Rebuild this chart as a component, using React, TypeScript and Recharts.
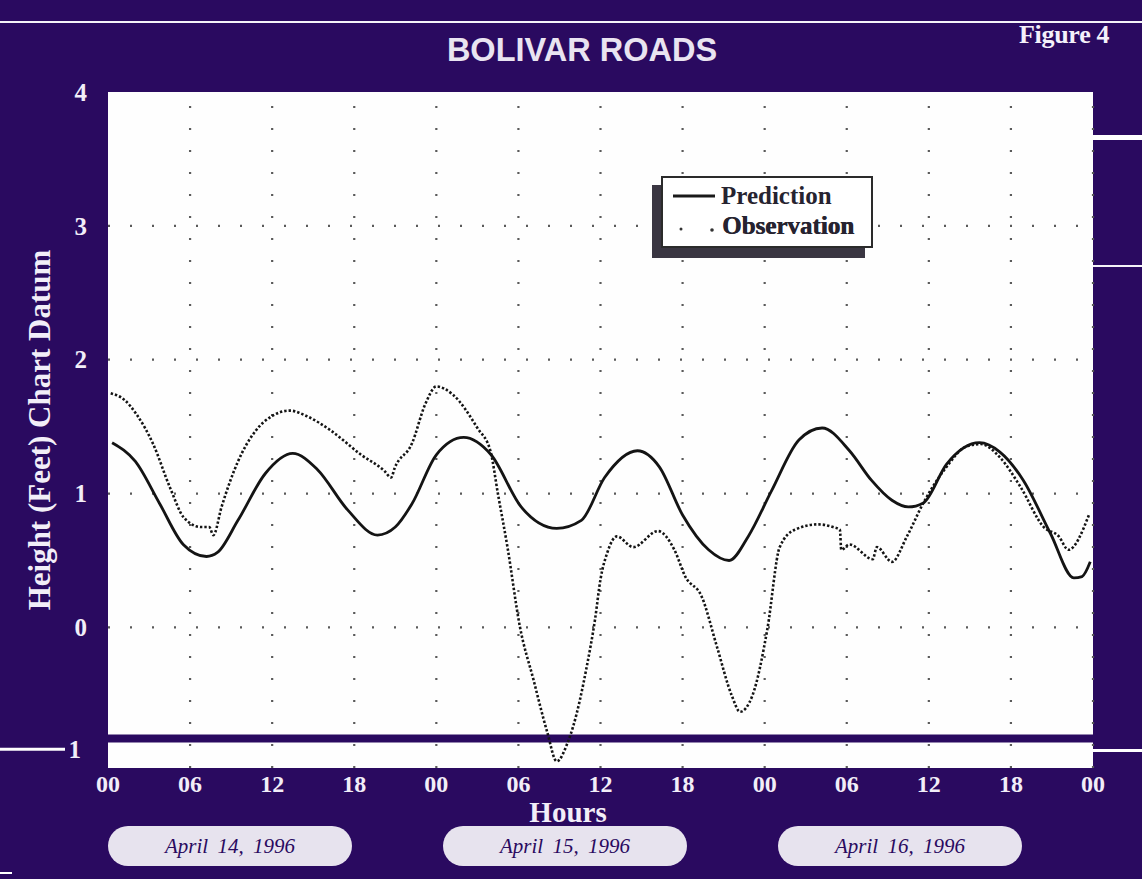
import React from 'react';
import { LineChart, Line, XAxis, YAxis, ReferenceLine, ReferenceArea, Legend, CartesianGrid } from 'recharts';

const PURPLE = '#2a0a60';
const SERIF = '"Liberation Serif", "DejaVu Serif", serif';
const SANS = '"Liberation Sans", Arial, sans-serif';

const titleText = 'BOLIVAR ROADS';
const figureText = 'Figure 4';
const yAxisTitle = 'Height (Feet) Chart Datum';
const xAxisTitle = 'Hours';

const hourTicks = [0, 6, 12, 18, 24, 30, 36, 42, 48, 54, 60, 66, 72];
const gridHours = [6, 12, 18, 24, 30, 36, 42, 48, 54, 60, 66, 72];
const heightTicks = [-1, 0, 1, 2, 3, 4];
const gridHeights = [0, 1, 2, 3];
const dateLabels = ['April 14, 1996', 'April 15, 1996', 'April 16, 1996'];

const predictionHours = [0.3, 2.0, 3.8, 5.5, 7.2, 8.0, 9.5, 11.5, 13.5, 15.3, 17.5, 19.7, 21.0, 22.2, 24.0, 26.0, 28.0, 30.2, 32.8, 34.6, 36.3, 38.7, 40.3, 42.0, 43.9, 45.4, 46.8, 48.5, 50.5, 52.2, 54.2, 55.8, 57.3, 58.5, 59.6, 61.3, 63.7, 65.2, 66.9, 68.9, 70.6, 71.2, 71.8];
const predictionValues = [1.38, 1.24, 0.92, 0.62, 0.53, 0.56, 0.80, 1.15, 1.30, 1.18, 0.88, 0.69, 0.75, 0.92, 1.29, 1.42, 1.29, 0.90, 0.74, 0.80, 1.12, 1.32, 1.20, 0.84, 0.58, 0.50, 0.68, 1.02, 1.40, 1.49, 1.32, 1.10, 0.95, 0.90, 0.93, 1.22, 1.38, 1.31, 1.10, 0.70, 0.37, 0.38, 0.49];

const observationHours = [0.2, 1.2, 2.1, 3.3, 4.55, 5.55, 6.8, 7.4, 7.7, 8.3, 9.5, 10.8, 12.0, 13.3, 14.5, 16.3, 18.5, 20.2, 20.7, 20.95, 22.2, 23.2, 24.0, 25.2, 27.0, 27.95, 28.5, 29.2, 30.1, 31.1, 32.1, 32.8, 33.6, 34.0, 35.0, 35.6, 36.0, 36.5, 37.2, 38.4, 40.2, 41.4, 42.2, 43.4, 44.5, 45.6, 46.2, 47.1, 48.2, 49.1, 50.2, 51.9, 53.0, 53.5, 53.6, 54.2, 55.9, 56.2, 57.3, 58.4, 59.6, 61.3, 62.7, 63.8, 65.2, 66.7, 68.4, 69.5, 70.2, 71.7];
const observationValues = [1.75, 1.70, 1.59, 1.37, 1.04, 0.82, 0.75, 0.75, 0.69, 0.90, 1.24, 1.47, 1.58, 1.62, 1.58, 1.47, 1.29, 1.17, 1.12, 1.19, 1.37, 1.67, 1.80, 1.74, 1.49, 1.32, 1.00, 0.60, 0.01, -0.39, -0.78, -1.0, -0.86, -0.74, -0.29, 0.06, 0.36, 0.56, 0.68, 0.60, 0.72, 0.58, 0.38, 0.23, -0.14, -0.51, -0.63, -0.51, -0.01, 0.60, 0.73, 0.77, 0.75, 0.73, 0.58, 0.62, 0.51, 0.60, 0.49, 0.68, 0.93, 1.20, 1.35, 1.37, 1.27, 1.05, 0.75, 0.68, 0.58, 0.84];

const predictionData = predictionHours.map((h, i) => ({ hour: h, height: predictionValues[i] }));
const observationData = observationHours.map((h, i) => ({ hour: h, height: observationValues[i] }));

const fmtHour = (h: number) => String(h % 24).padStart(2, '0');

const YTick = (props: any) => {
  const { x, y, payload } = props;
  const v = payload.value as number;
  if (v < 0) {
    return (
      <g>
        <line x1={0} x2={x - 22} y1={y - 12} y2={y - 12} stroke="#ffffff" strokeWidth={3} />
        <text x={x - 6} y={y - 12} dy="0.35em" textAnchor="end" fill="#f2eef8" fontFamily={SERIF} fontWeight="bold" fontSize={25}>
          {String(Math.abs(v))}
        </text>
      </g>
    );
  }
  return (
    <text x={x} y={y} dy="0.35em" textAnchor="end" fill="#f2eef8" fontFamily={SERIF} fontWeight="bold" fontSize={25}>
      {String(v)}
    </text>
  );
};

const LegendBox = () => (
  <div style={{ position: 'relative', width: 222, height: 84 }}>
    <div style={{ position: 'absolute', left: 0, top: 9, width: 213, height: 73, background: '#3a3642' }} />
    <div style={{ position: 'absolute', left: 9, top: 0, width: 208, height: 68, background: '#ffffff', border: '2px solid #2b2b2b' }}>
      <svg width={60} height={64} style={{ position: 'absolute', left: 0, top: 0 }}>
        <line x1={10} x2={52} y1={18} y2={18} stroke="#1a1a1a" strokeWidth={3} />
        <circle cx={18} cy={51} r={1.5} fill="#333" />
        <circle cx={49} cy={52} r={1.8} fill="#333" />
      </svg>
      <div style={{ position: 'absolute', left: 58, top: 4, fontFamily: SERIF, fontWeight: 'bold', fontSize: 25, lineHeight: '28px', color: '#262330' }}>Prediction</div>
      <div style={{ position: 'absolute', left: 59, top: 34, fontFamily: SERIF, fontWeight: 'bold', fontSize: 25, lineHeight: '28px', color: '#262330', textShadow: '0.6px 0 0 #262330' }}>Observation</div>
    </div>
  </div>
);

export default function App() {
  return (
    <div style={{ position: 'absolute', left: 0, top: 0, width: 1142, height: 879, background: PURPLE, overflow: 'hidden' }}>
      {/* scan border lines */}
      <div style={{ position: 'absolute', left: 0, top: 21, width: 1142, height: 2, background: '#f4f2f8' }} />
      <div style={{ position: 'absolute', left: 1093, top: 135, width: 49, height: 5, background: '#ffffff' }} />
      <div style={{ position: 'absolute', left: 1093, top: 265, width: 49, height: 1.5, background: '#f4f2f8' }} />
      <div style={{ position: 'absolute', left: 1093, top: 749, width: 49, height: 3, background: '#ffffff' }} />
      <div style={{ position: 'absolute', left: 0, top: 872, width: 12, height: 2, background: '#ffffff' }} />

      <div style={{ position: 'absolute', left: 582, top: 50, transform: 'translate(-50%, -50%)', fontFamily: SANS, fontWeight: 'bold', fontSize: 32.5, color: '#e9e4f1', whiteSpace: 'nowrap', lineHeight: '36px' }}>
        {titleText}
      </div>
      <div style={{ position: 'absolute', left: 1019, top: 20, fontFamily: SERIF, fontWeight: 'bold', fontSize: 26, color: '#f4f0fa', whiteSpace: 'nowrap', lineHeight: '30px', letterSpacing: -0.3 }}>
        {figureText}
      </div>

      <LineChart
        width={1142}
        height={879}
        margin={{ top: 92, right: 49, left: 68, bottom: 81 }}
        style={{ position: 'absolute', left: 0, top: 0 }}
      >
        <CartesianGrid fill="#fefefe" stroke="none" horizontal={false} vertical={false} />
        <XAxis
          dataKey="hour"
          type="number"
          domain={[0, 72]}
          ticks={hourTicks}
          tickFormatter={fmtHour}
          axisLine={false}
          tickLine={false}
          tickSize={0}
          tickMargin={7}
          height={30}
          allowDataOverflow
          tick={{ fill: '#f2eef8', fontFamily: SERIF, fontWeight: 'bold', fontSize: 24 }}
        />
        <YAxis
          dataKey="height"
          type="number"
          domain={[-1.05, 4]}
          ticks={heightTicks}
          axisLine={false}
          tickLine={false}
          tickSize={0}
          tickMargin={21}
          width={40}
          allowDataOverflow
          tick={<YTick />}
        />
        {gridHeights.map((v) => (
          <ReferenceLine key={'h' + v} y={v} stroke="#5a5a5a" strokeWidth={2.2} strokeDasharray="2 20" />
        ))}
        {gridHours.map((h) => (
          <ReferenceLine key={'v' + h} x={h} stroke="#5a5a5a" strokeWidth={2.2} strokeDasharray="2 20" />
        ))}
        <Line
          data={predictionData}
          dataKey="height"
          name="Prediction"
          type="monotone"
          stroke="#141414"
          strokeWidth={2.8}
          dot={false}
          activeDot={false}
          isAnimationActive={false}
        />
        <Line
          data={observationData}
          dataKey="height"
          name="Observation"
          type="monotone"
          stroke="#141414"
          strokeWidth={2.6}
          strokeDasharray="2.4 2"
          dot={false}
          activeDot={false}
          isAnimationActive={false}
        />
        <ReferenceArea y1={-0.86} y2={-0.8} fill={PURPLE} fillOpacity={1} stroke="none" ifOverflow="visible" />
        <Legend
          layout="horizontal"
          verticalAlign="middle"
          align="center"
          content={<LegendBox />}
          wrapperStyle={{ position: 'absolute', left: 652, top: 176, width: 222, height: 84 }}
        />
      </LineChart>

      <div style={{ position: 'absolute', left: 40, top: 430, transform: 'translate(-50%, -50%) rotate(-90deg)', fontFamily: SERIF, fontWeight: 'bold', fontSize: 31, color: '#f2eef8', whiteSpace: 'nowrap', lineHeight: '34px' }}>
        {yAxisTitle}
      </div>
      <div style={{ position: 'absolute', left: 568, top: 812, transform: 'translate(-50%, -50%)', fontFamily: SERIF, fontWeight: 'bold', fontSize: 29, color: '#f2eef8', whiteSpace: 'nowrap', lineHeight: '30px' }}>
        {xAxisTitle}
      </div>

      {dateLabels.map((d, i) => (
        <div
          key={d}
          style={{
            position: 'absolute',
            left: 108 + i * 335,
            top: 826,
            width: 244,
            height: 40,
            borderRadius: 20,
            background: '#e7e3ee',
            display: 'flex',
            alignItems: 'center',
            justifyContent: 'center',
            fontFamily: SERIF,
            fontStyle: 'italic',
            fontSize: 21,
            color: '#2a0a60',
            wordSpacing: 4,
            whiteSpace: 'nowrap',
          }}
        >
          {d}
        </div>
      ))}
    </div>
  );
}
